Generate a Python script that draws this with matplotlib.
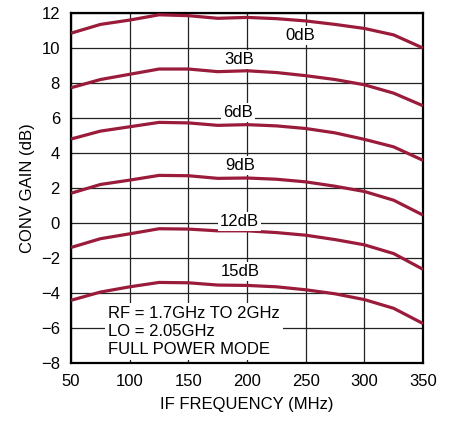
import matplotlib.pyplot as plt

# IF frequency (MHz) and conversion gain (dB) per RF attenuation setting
if_freq = [50, 75, 100, 125, 150, 175, 200, 225, 250, 275, 300, 325, 350]
gain_0db = [10.85, 11.35, 11.6, 11.9, 11.85, 11.7, 11.75, 11.68, 11.55, 11.35, 11.12, 10.75, 10.0]
gain_3db = [7.73, 8.2, 8.5, 8.8, 8.8, 8.65, 8.7, 8.6, 8.42, 8.2, 7.9, 7.42, 6.7]
gain_6db = [4.8, 5.25, 5.5, 5.75, 5.72, 5.58, 5.62, 5.55, 5.4, 5.15, 4.78, 4.35, 3.58]
gain_9db = [1.7, 2.2, 2.45, 2.72, 2.7, 2.55, 2.57, 2.5, 2.35, 2.1, 1.8, 1.3, 0.45]
gain_12db = [-1.4, -0.9, -0.62, -0.33, -0.35, -0.45, -0.45, -0.55, -0.7, -0.95, -1.25, -1.75, -2.65]
gain_15db = [-4.42, -3.95, -3.65, -3.4, -3.42, -3.55, -3.57, -3.65, -3.82, -4.05, -4.38, -4.88, -5.75]

series = [gain_0db, gain_3db, gain_6db, gain_9db, gain_12db, gain_15db]
labels = ["0dB", "3dB", "6dB", "9dB", "12dB", "15dB"]
# where each curve label sits (x, y in data units)
label_pos = [(245, 10.7), (193, 9.37), (192.5, 6.3), (194.5, 3.31), (193.5, 0.11), (194.5, -2.78)]

x_ticks = [50, 100, 150, 200, 250, 300, 350]
y_ticks = [-8, -6, -4, -2, 0, 2, 4, 6, 8, 10, 12]

plt.rcParams['font.family'] = ['Liberation Sans Narrow', 'Liberation Sans', 'DejaVu Sans']
plt.rcParams['font.size'] = 12

fig = plt.figure(figsize=(4.5, 4.21), dpi=100)
ax = fig.add_axes([0.158, 0.138, 0.782, 0.831])

curve_color = "#9b1b3a"
for ys in series:
    ax.plot(if_freq, ys, color=curve_color, lw=2.3, solid_capstyle="butt", zorder=3)

box = dict(facecolor="white", edgecolor="none", pad=1.5)
for lab, (lx, ly) in zip(labels, label_pos):
    ax.text(lx, ly, lab, ha="center", va="center", fontsize=12, bbox=box, zorder=4)

ax.text(81.5, -6.2, "RF = 1.7GHz TO 2GHz\nLO = 2.05GHz\nFULL POWER MODE",
        ha="left", va="center", fontsize=12, linespacing=1.25,
        bbox=dict(facecolor="white", edgecolor="none", pad=2), zorder=4)

ax.set_xlim(50, 350)
ax.set_ylim(-8, 12)
ax.set_xticks(x_ticks)
ax.set_yticks(y_ticks)
ax.grid(True, color="#222222", lw=0.9, zorder=1)
ax.set_axisbelow(True)
ax.tick_params(length=0, pad=8, labelsize=12)
for s in ax.spines.values():
    s.set_linewidth(1.6)
    s.set_color("black")

ax.set_xlabel("IF FREQUENCY (MHz)", fontsize=12, labelpad=6)
ax.set_ylabel("CONV GAIN (dB)", fontsize=12, labelpad=4)

fig.savefig("out.png", dpi=100)
